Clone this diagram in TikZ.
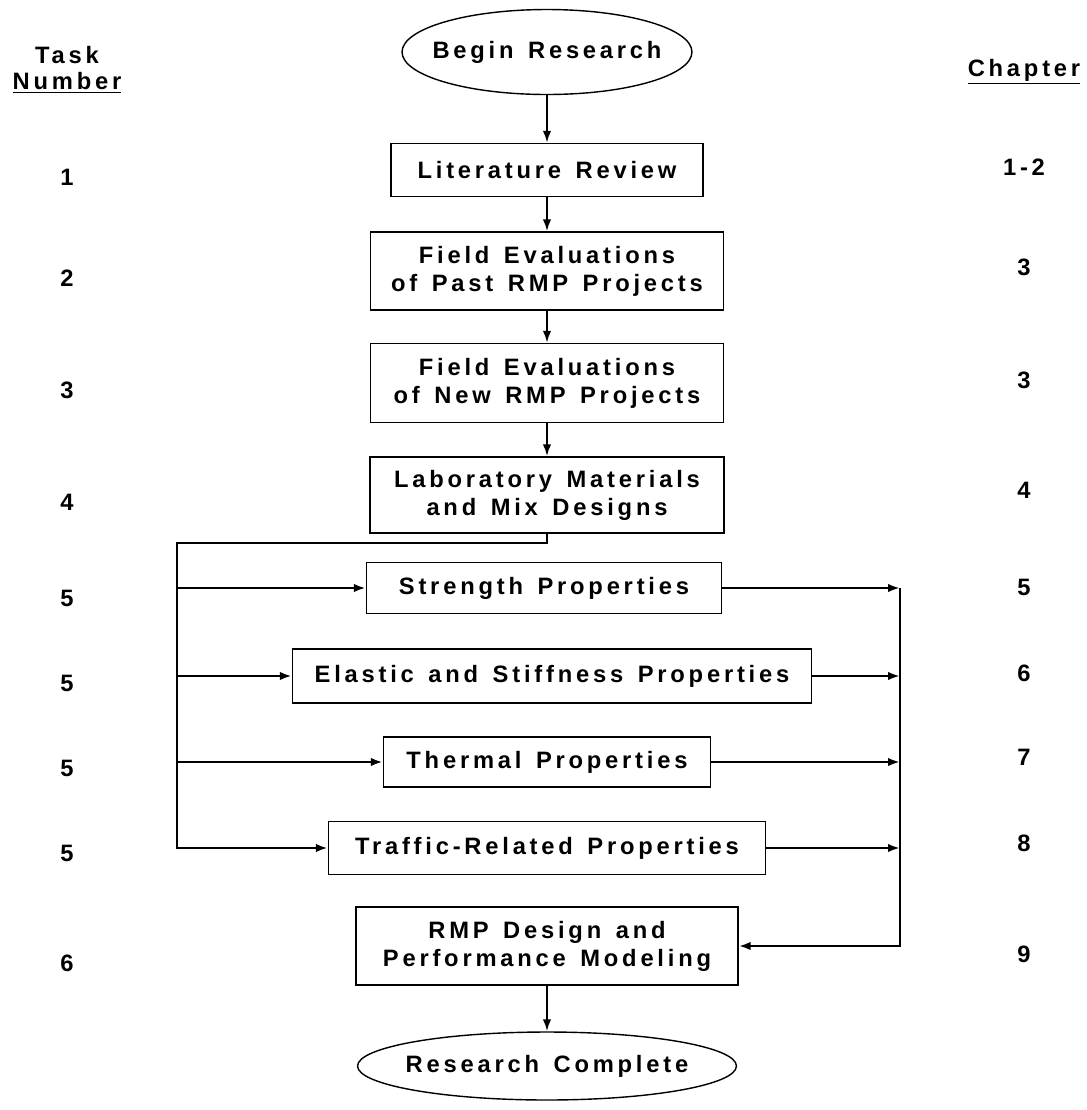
\documentclass[tikz,border=0pt]{standalone}
\usepackage{fontspec}
\newfontfamily\flowfont{Liberation Sans Bold}[LetterSpace=16, WordSpace=1.4]
\newcommand\flowtext{\flowfont\fontsize{13.5}{16}\selectfont}
\usetikzlibrary{shapes.geometric, arrows.meta}

\begin{document}
\begin{tikzpicture}[x=0.02cm, y=-0.02cm, >={Latex[length=2.4mm,width=1.7mm]},
  every node/.style={font=\flowtext},
  box/.style={draw, line width=0.8pt, inner sep=0pt, align=center},
  oval/.style={ellipse, draw, line width=0.8pt, inner sep=0pt},
  flow/.style={->, line width=1.2pt},
  feed/.style={->, line width=1.5pt}]
\useasboundingbox (0,0) rectangle (1087,1110);

% column headings
\node (task) at (67,55) {Task};
\node (tasknum) at (67,83) {\underline{Number}};
\node (chap) at (1024,72) {\underline{Chapter}};

% main column
\node[oval, minimum width=5.8cm, minimum height=1.7cm] (begin) at (547,52) {\makebox[0pt]{Begin Research}};
\node[box, minimum width=6.24cm, minimum height=1.06cm] (lit) at (547,170) {Literature Review};
\node[box, minimum width=7.06cm, minimum height=1.56cm] (past) at (547,271) {Field Evaluations\\of Past RMP Projects};
\node[box, minimum width=7.06cm, minimum height=1.58cm] (new) at (547,383) {Field Evaluations\\of New RMP Projects};
\node[box, minimum width=7.08cm, minimum height=1.52cm] (lab) at (547,495) {Laboratory Materials\\and Mix Designs};
\node[box, minimum width=7.1cm, minimum height=1.02cm] (strength) at (544,588) {Strength Properties};
\node[box, minimum width=10.38cm, minimum height=1.08cm] (elastic) at (552,676) {Elastic and Stiffness Properties};
\node[box, minimum width=6.54cm, minimum height=1.0cm] (thermal) at (547,762) {Thermal Properties};
\node[box, minimum width=8.74cm, minimum height=1.06cm] (traffic) at (547,848) {Traffic-Related Properties};
\node[box, minimum width=7.64cm, minimum height=1.56cm] (rmp) at (547,946) {RMP Design and\\Performance Modeling};
\node[oval, minimum width=7.58cm, minimum height=1.36cm] (done) at (547,1066) {\makebox[0pt]{Research Complete}};

% task and chapter numbers
\foreach \t/\y in {1/177, 2/278, 3/390, 4/502, 5/598, 5/683, 5/768, 5/853, 6/963}
  \node (t\y) at (67,\y) {\t};
\foreach \c/\y in {1-2/167, 3/267, 3/380, 4/490, 5/587, 6/673, 7/757, 8/843, 9/954}
  \node (c\y) at (1024,\y) {\c};

% arrows
\draw[flow] (begin) -- (lit);
\draw[flow] (lit) -- (past);
\draw[flow] (past) -- (new);
\draw[flow] (new) -- (lab);
\draw[flow] (rmp) -- (done);

\coordinate (lbus) at (177,543);
\coordinate (rbus) at (900,592);
\draw[feed] (lab.south) |- (lbus) |- (traffic.west);
\foreach \n in {strength, elastic, thermal}
  \draw[feed] (lbus |- \n.west) -- (\n.west);
\foreach \n in {strength, elastic, thermal, traffic}
  \draw[feed] (\n.east) -- (rbus |- \n.east);
\draw[feed] (rbus |- strength.east) |- (rmp.east);
\end{tikzpicture}
\end{document}
